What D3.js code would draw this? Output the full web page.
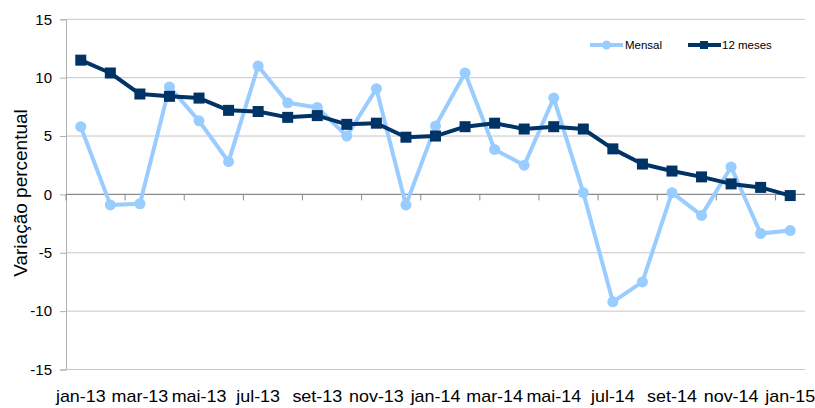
<!DOCTYPE html>
<html>
<head>
<meta charset="utf-8">
<script src="https://cdnjs.cloudflare.com/ajax/libs/d3/7.8.5/d3.min.js"></script>
<style>
    body { margin: 0; background: #fff; }
    text { font-family: "Liberation Sans", Arial, sans-serif; fill: #000; }
</style>
</head>
<body>
<div id="chart"></div>
<script>
//data
var months = ["jan-13", "fev-13", "mar-13", "abr-13", "mai-13", "jun-13", "jul-13", "ago-13", "set-13", "out-13", "nov-13", "dez-13",
    "jan-14", "fev-14", "mar-14", "abr-14", "mai-14", "jun-14", "jul-14", "ago-14", "set-14", "out-14", "nov-14", "dez-14", "jan-15"];
var mensal = [5.8, -0.9, -0.8, 9.2, 6.3, 2.8, 11.0, 7.85, 7.45, 5.0, 9.05, -0.9,
    5.85, 10.4, 3.85, 2.5, 8.25, 0.15, -9.2, -7.5, 0.15, -1.8, 2.35, -3.35, -3.1];
var dozeMeses = [11.5, 10.4, 8.6, 8.4, 8.25, 7.2, 7.1, 6.6, 6.75, 6.0, 6.1, 4.9,
    5.0, 5.8, 6.1, 5.6, 5.8, 5.6, 3.9, 2.6, 2.0, 1.5, 0.9, 0.6, -0.1];
var yTicks = [-15, -10, -5, 0, 5, 10, 15];
var seriesNames = ["Mensal", "12 meses"];

// note: "top" is taken by window.top, so the plot edges get their own names
var width = 815, height = 408;
var plotLeft = 66, plotRight = 805, plotTop = 19.3, plotBottom = 369.5;
var lightBlue = "#99ccff", navy = "#003366";

var svg = d3.select("#chart")
    .append("svg")
    .attr("width", width)
    .attr("height", height)

var x = d3.scaleBand().domain(months).range([plotLeft, plotRight]);
var y = d3.scaleLinear().domain([-15, 15]).range([plotBottom, plotTop]);

//gridlines
svg.append("g")
    .selectAll("line")
    .data(yTicks.filter(function(d) { return d != 0 }))
    .enter().append("line")
    .attr("x1", plotLeft).attr("x2", plotRight)
    .attr("y1", function(d) { return y(d) }).attr("y2", function(d) { return y(d) })
    .attr("stroke", "#c6c6c6")
    .attr("stroke-width", 1)

//y axis (plain hyphen for negatives, like the source)
var yAxis = svg.append("g")
    .attr("transform", "translate(" + plotLeft + ",0)")
    .call(d3.axisLeft(y).tickValues(yTicks).tickSize(6).tickPadding(8)
        .tickFormat(function(d) { return String(d) }))
yAxis.select(".domain").attr("stroke", "#b0b0b0")
yAxis.selectAll(".tick line").attr("stroke", "#b0b0b0")
yAxis.selectAll("text")
    .style("font-family", "Liberation Sans, Arial, sans-serif")
    .style("font-size", "15px")
    .attr("fill", "#000")

//x axis on zero line, ticks every two months at band edges
var tickIdx = d3.range(0, months.length, 2);
svg.append("line")
    .attr("x1", plotLeft).attr("x2", plotRight)
    .attr("y1", y(0)).attr("y2", y(0))
    .attr("stroke", "#8a8a8a")
    .attr("stroke-width", 1.3)
svg.append("g")
    .selectAll("line")
    .data(tickIdx)
    .enter().append("line")
    .attr("x1", function(i) { return x(months[i]) })
    .attr("x2", function(i) { return x(months[i]) })
    .attr("y1", y(0)).attr("y2", y(0) + 6)
    .attr("stroke", "#8a8a8a")

//month labels at the bottom, a bit stretched sideways as in the source
svg.append("g")
    .selectAll("text")
    .data(tickIdx)
    .enter().append("text")
    .attr("transform", function(i) {
        return "translate(" + (x(months[i]) + x.bandwidth() / 2) + ",402) scale(1.12,1)"
    })
    .attr("text-anchor", "middle")
    .style("font-size", "16px")
    .text(function(i) { return months[i] })

//axis title
svg.append("text")
    .attr("transform", "translate(27,193) rotate(-90)")
    .attr("text-anchor", "middle")
    .style("font-size", "19px")
    .text("Variação percentual")

//series
var line = d3.line()
    .x(function(d, i) { return x(months[i]) + x.bandwidth() / 2 })
    .y(function(d) { return y(d) })

function drawseries(values, color, shape) {
    var g = svg.append("g");
    g.append("path")
        .datum(values)
        .attr("d", line)
        .attr("fill", "none")
        .attr("stroke", color)
        .attr("stroke-width", 4)
        .attr("stroke-linejoin", "round")
    if (shape == "circle") {
        g.selectAll("circle")
            .data(values)
            .enter().append("circle")
            .attr("cx", function(d, i) { return x(months[i]) + x.bandwidth() / 2 })
            .attr("cy", function(d) { return y(d) })
            .attr("r", 5.5)
            .attr("fill", color)
    } else {
        g.selectAll("rect")
            .data(values)
            .enter().append("rect")
            .attr("x", function(d, i) { return x(months[i]) + x.bandwidth() / 2 - 5.5 })
            .attr("y", function(d) { return y(d) - 5.5 })
            .attr("width", 11).attr("height", 11)
            .attr("fill", color)
    }
}
drawseries(mensal, lightBlue, "circle");
drawseries(dozeMeses, navy, "square");

//legend
var legend = svg.append("g");
legend.append("line").attr("x1", 590).attr("x2", 623).attr("y1", 45).attr("y2", 45)
    .attr("stroke", lightBlue).attr("stroke-width", 4)
legend.append("circle").attr("cx", 606.5).attr("cy", 45).attr("r", 4.5).attr("fill", lightBlue)
legend.append("text").attr("x", 625).attr("y", 49).style("font-size", "11.5px").text(seriesNames[0])
legend.append("line").attr("x1", 688).attr("x2", 721).attr("y1", 45).attr("y2", 45)
    .attr("stroke", navy).attr("stroke-width", 4)
legend.append("rect").attr("x", 700).attr("y", 41).attr("width", 8).attr("height", 8).attr("fill", navy)
legend.append("text").attr("x", 722).attr("y", 49).style("font-size", "11.5px").text(seriesNames[1])
</script>
</body>
</html>
